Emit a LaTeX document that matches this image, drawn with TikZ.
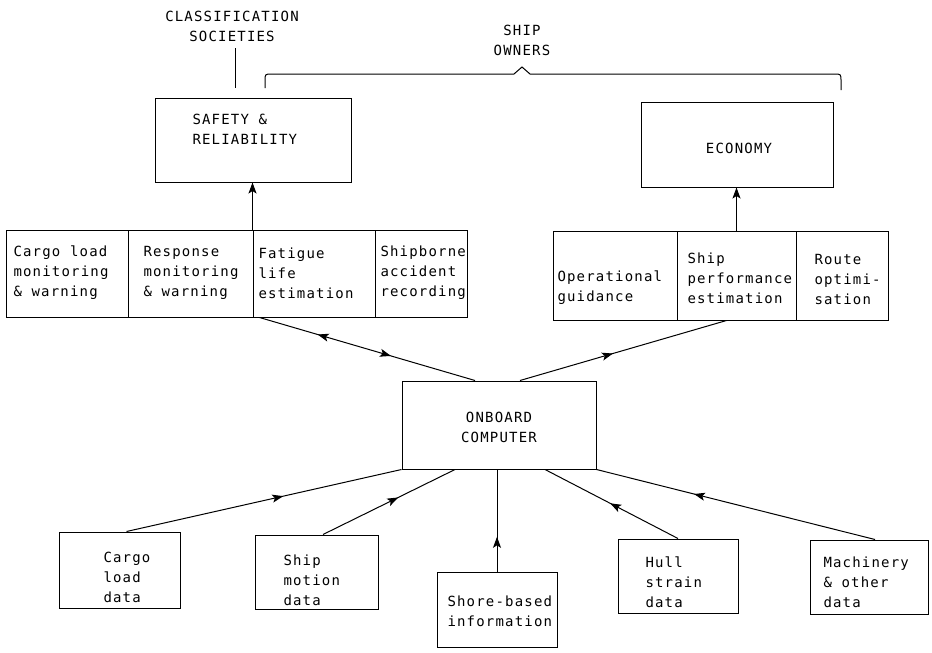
\documentclass[tikz,border=0pt]{standalone}
\usepackage{fontspec}
\newfontfamily\tw[LetterSpace=8.5]{DejaVu Sans Mono}
\usetikzlibrary{arrows.meta,decorations.markings,calc}
\begin{document}
\begin{tikzpicture}[x=1pt,y=-1pt,line width=1pt,
  box/.style={draw,line width=1pt,inner sep=0pt},
  txt/.style={font=\tw\fontsize{14}{20}\selectfont,align=left,inner sep=0pt},
  ctxt/.style={font=\tw\fontsize{14}{20}\selectfont,align=center,inner sep=0pt},
  tip/.style={-{Stealth[length=11pt,width=8pt,inset=2.5pt]}},
  fwd/.style={postaction={decorate,decoration={markings,mark=at position #1 with {\arrow{Stealth[length=11pt,width=8pt,inset=2.5pt]}}}}},
  bwd/.style={postaction={decorate,decoration={markings,mark=at position #1 with {\arrowreversed{Stealth[length=11pt,width=8pt,inset=2.5pt]}}}}}]
\useasboundingbox (0,0) rectangle (932,653);

% boxes
\node[box,minimum width=196pt,minimum height=84pt] (safety) at (253,140) {};
\node[box,minimum width=192pt,minimum height=85pt] (economy) at (737,144.5) {};
\node[box,minimum width=122pt,minimum height=87pt] (c1) at (67,273.5) {};
\node[box,minimum width=125pt,minimum height=87pt] (c2) at (190.5,273.5) {};
\node[box,minimum width=122pt,minimum height=87pt] (c3) at (314,273.5) {};
\node[box,minimum width=92pt,minimum height=87pt] (c4) at (421,273.5) {};
\node[box,minimum width=124pt,minimum height=89pt] (oper) at (615,275.5) {};
\node[box,minimum width=119pt,minimum height=89pt] (perf) at (736.5,275.5) {};
\node[box,minimum width=92pt,minimum height=89pt] (route) at (842,275.5) {};
\node[box,minimum width=194pt,minimum height=88pt] (comp) at (499,425) {};
\node[box,minimum width=121pt,minimum height=76pt] (cargo) at (119.5,570) {};
\node[box,minimum width=123pt,minimum height=74pt] (motion) at (316.5,572) {};
\node[box,minimum width=120pt,minimum height=75pt] (shore) at (497,609.5) {};
\node[box,minimum width=120pt,minimum height=74pt] (hull) at (678,576) {};
\node[box,minimum width=118pt,minimum height=74pt] (mach) at (869,577) {};

% texts
\node[ctxt] (tclass) at (232,26.5) {CLASSIFICATION\\SOCIETIES};
\node[ctxt] (towners) at (522,40) {SHIP\\OWNERS};
\node[txt,anchor=west] (tsafety) at (192,129) {SAFETY \&\\RELIABILITY};
\node[ctxt] (teconomy) at (739,148) {ECONOMY};
\node[txt,anchor=west] (tc1) at (13,273) {Cargo load\\monitoring\\\& warning};
\node[txt,anchor=west] (tc2) at (143,273) {Response\\monitoring\\\& warning};
\node[txt,anchor=west] (tc3) at (258,273) {Fatigue\\life\\estimation};
\node[txt,anchor=west] (tc4) at (380,273) {Shipborne\\accident\\recording};
\node[txt,anchor=west] (toper) at (557,288) {Operational\\guidance};
\node[txt,anchor=west] (tperf) at (687,278) {Ship\\performance\\estimation};
\node[txt,anchor=west] (troute) at (814,279) {Route\\optimi-\\sation};
\node[ctxt] (tcomp) at (499,427) {ONBOARD\\COMPUTER};
\node[txt,anchor=west] (tcargo) at (103,577) {Cargo\\load\\data};
\node[txt,anchor=west] (tmotion) at (283,580) {Ship\\motion\\data};
\node[txt,anchor=west] (tshore) at (447,611) {Shore-based\\information};
\node[txt,anchor=west] (thull) at (645,582) {Hull\\strain\\data};
\node[txt,anchor=west] (tmach) at (823,582) {Machinery\\\& other\\data};

% classification line and owners brace
\coordinate (cltop) at (235,48);
\coordinate (clbot) at (235,88);
\draw (cltop) -- (clbot);
\coordinate (brl) at (265,88);
\coordinate (brr) at (841,90);
\draw (brl) -- (265,81) .. controls (265,74) .. (272,74) -- (514,74) -- (522,67) -- (530,74) -- (834,74) .. controls (841,74) .. (841,81) -- (brr);

% upward arrows
\draw[tip] (c3.north west) -- (c3.north west |- safety.south);
\draw[tip] (perf.north) -- (perf.north |- economy.south);

% top connectors
\draw[bwd=0.27,fwd=0.61] ([xshift=7pt]c3.south west) -- ([xshift=-24pt]comp.north);
\draw[fwd=0.45] ([xshift=21pt]comp.north) -- ([xshift=-10pt]perf.south);

% bottom connectors
\draw[fwd=0.57] ([xshift=7pt]cargo.north) -- (comp.south west);
\draw[fwd=0.57] ([xshift=6.5pt]motion.north) -- ([xshift=-44pt]comp.south);
\draw[fwd=0.34] (shore.north) -- (shore.north |- comp.south);
\draw[fwd=0.51] (hull.north) -- ([xshift=46pt]comp.south);
\draw[fwd=0.65] ([xshift=6pt]mach.north) -- (comp.south east);
\end{tikzpicture}
\end{document}
